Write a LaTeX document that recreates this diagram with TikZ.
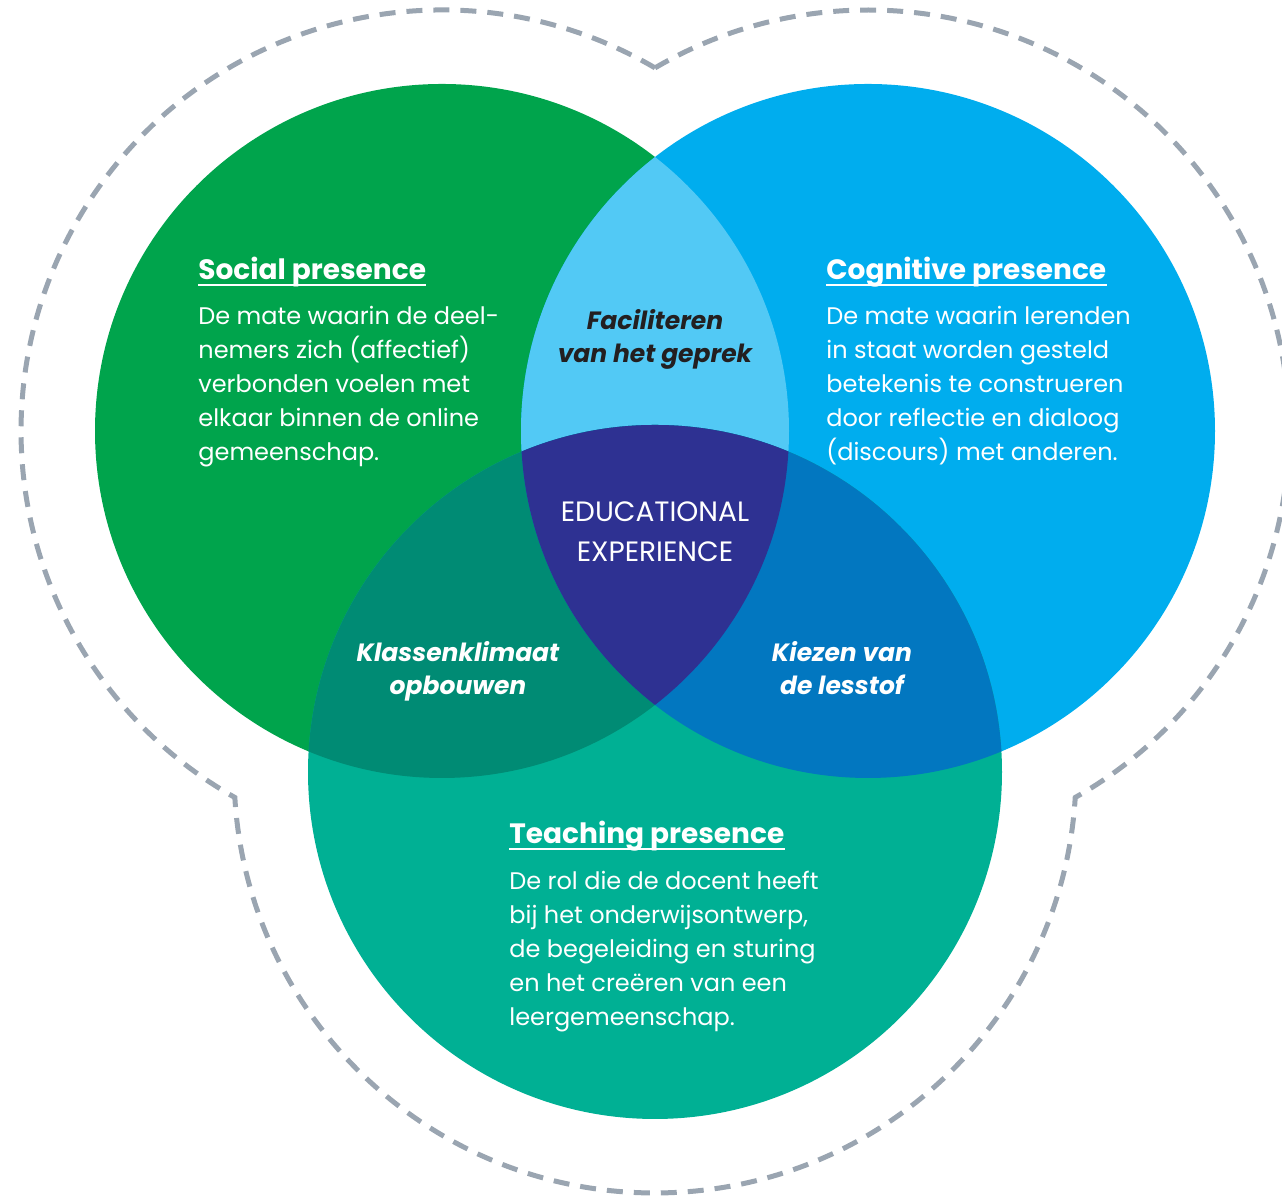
\documentclass[tikz,border=0pt]{standalone}
\usepackage{fontspec}
\setmainfont{Poppins}
\usetikzlibrary{positioning,calc}
\definecolor{socialgreen}{HTML}{00A44C}
\definecolor{cognblue}{HTML}{00ADEE}
\definecolor{teachteal}{HTML}{00B094}
\definecolor{lenslight}{HTML}{52C9F5}
\definecolor{lensteal}{HTML}{008B74}
\definecolor{lensblue}{HTML}{0277C0}
\definecolor{corepurple}{HTML}{2E3192}
\definecolor{dashgray}{HTML}{9AA5B1}
\definecolor{lensink}{HTML}{231F20}
\begin{document}
\begin{tikzpicture}[x=0.5pt,y=0.5pt,
	presencetitle/.style={anchor=base west,inner sep=0pt,text=white,
		font=\fontsize{14}{17}\selectfont\bfseries},
	presencetext/.style={anchor=base west,inner sep=0pt,text=white,align=left,
		font=\fontsize{12}{17}\selectfont},
	lenslabel/.style={anchor=base,inner sep=0pt,text=white,align=center,
		font=\fontsize{12.5}{16.5}\selectfont\bfseries\itshape},
	underbar/.style={white,line width=1pt}]
	\useasboundingbox (0,0) rectangle (1282,1197);
	% circle centres
	\coordinate (social) at (442,766);
	\coordinate (cognitive) at (868,766);
	\coordinate (teaching) at (655,425);
	% dashed outline round the three circles
	\coordinate (topjoin) at ($(social)+(59.6:421)$);
	\draw[dashgray,line width=2.5pt,dash pattern=on 8pt off 5.5pt]
		(topjoin) arc[start angle=59.6,end angle=240.52,radius=421]
		arc[start angle=183.47,end angle=356.53,radius=421]
		arc[start angle=-60.52,end angle=120.4,radius=421] -- cycle;
	% circles
	\fill[socialgreen] (social) circle[radius=347];
	\fill[cognblue] (cognitive) circle[radius=347];
	\fill[teachteal] (teaching) circle[radius=347];
	% overlaps
	\begin{scope}
		\clip (social) circle[radius=347];
		\fill[lenslight] (cognitive) circle[radius=347];
		\fill[lensteal] (teaching) circle[radius=347];
	\end{scope}
	\begin{scope}
		\clip (cognitive) circle[radius=347];
		\fill[lensblue] (teaching) circle[radius=347];
		\clip (social) circle[radius=347];
		\fill[corepurple] (teaching) circle[radius=347];
	\end{scope}
	% texts (multi-line nodes sit on their last line)
	\node[presencetitle] (socialtitle) at (198,917) {Social presence};
	\node[presencetext] (socialtext) at (198,736) {De mate waarin de deel-\\nemers zich (affectief)\\verbonden voelen met\\elkaar binnen de online\\gemeenschap.};
	\node[presencetitle] (cogntitle) at (826,917) {Cognitive presence};
	\node[presencetext] (cogntext) at (826,736) {De mate waarin lerenden\\in staat worden gesteld\\betekenis te construeren\\door reflectie en dialoog\\(discours) met anderen.};
	\node[presencetitle] (teachtitle) at (509,353) {Teaching presence};
	\node[presencetext] (teachtext) at (509,171) {De rol die de docent heeft\\bij het onderwijsontwerp,\\de begeleiding en sturing\\en het creëren van een\\leergemeenschap.};
	\foreach \t in {socialtitle,cogntitle,teachtitle}
		\draw[underbar] ([yshift=-2.5pt]\t.base west) -- ([yshift=-2.5pt]\t.base east);
	\node[lenslabel,text=lensink] (facil) at (655,834) {Faciliteren\\van het geprek};
	\node[lenslabel] (klimaat) at (458,502) {Klassenklimaat\\opbouwen};
	\node[lenslabel] (lesstof) at (842,502) {Kiezen van\\de lesstof};
	\node[lenslabel,font=\fontsize{14}{20}\selectfont] (core) at (655,635) {EDUCATIONAL\\EXPERIENCE};
\end{tikzpicture}
\end{document}
